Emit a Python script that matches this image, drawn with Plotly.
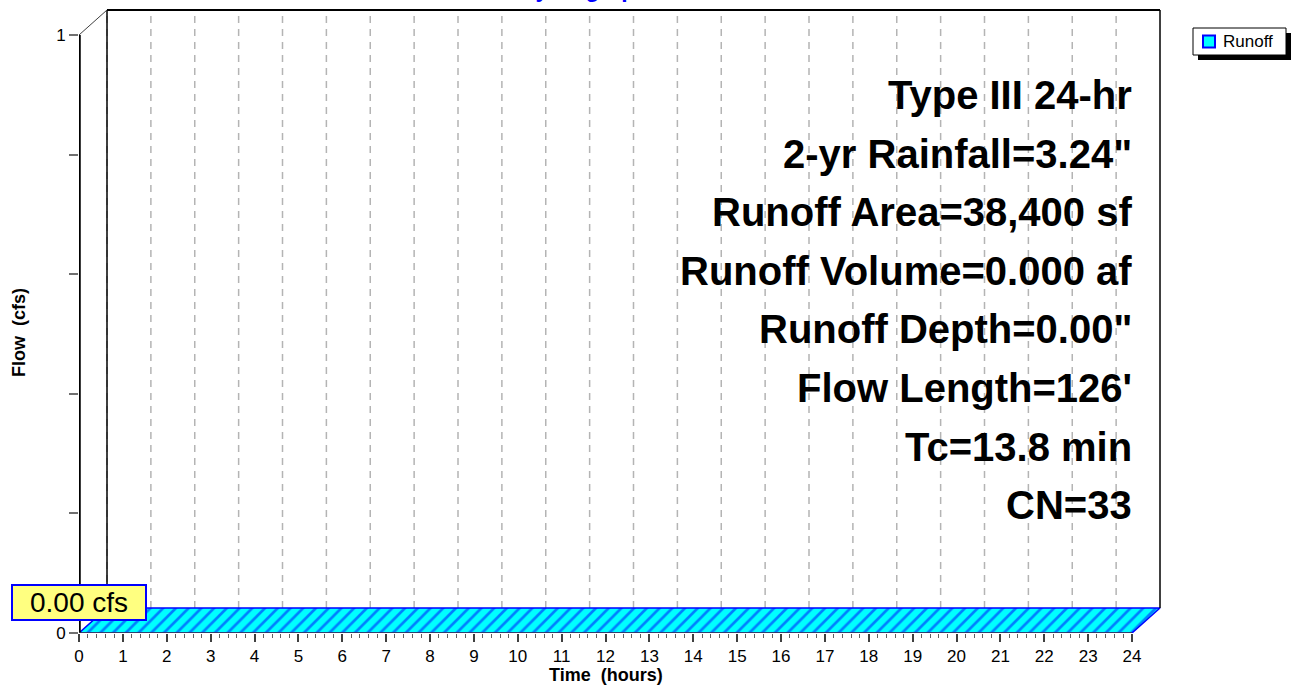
import plotly.graph_objects as go

# Hydrograph series (time in hours, flow in cfs)
hours = [0, 1, 2, 3, 4, 5, 6, 7, 8, 9, 10, 11, 12,
         13, 14, 15, 16, 17, 18, 19, 20, 21, 22, 23, 24]
flow_cfs = [0.00, 0.00, 0.00, 0.00, 0.00, 0.00, 0.00, 0.00, 0.00, 0.00,
            0.00, 0.00, 0.00, 0.00, 0.00, 0.00, 0.00, 0.00, 0.00, 0.00,
            0.00, 0.00, 0.00, 0.00, 0.00]

x_tick_vals = list(range(0, 25))
x_tick_text = [str(v) for v in x_tick_vals]
y_tick_vals = [0, 0.2, 0.4, 0.6, 0.8, 1.0]
y_tick_text = ["0", "", "", "", "", "1"]

series_name = "Runoff"
summary_lines = [
    "Type III 24-hr",
    '2-yr Rainfall=3.24"',
    "Runoff Area=38,400 sf",
    "Runoff Volume=0.000 af",
    'Runoff Depth=0.00"',
    "Flow Length=126'",
    "Tc=13.8 min",
    "CN=33",
]

# ---- layout geometry (pixels) ----
W, H = 1294, 686
ML, MR, MT, MB = 79, 129, 5, 53
PLOT_W = W - ML - MR
PLOT_H = H - MT - MB
PX_PER_HR = 43.875
X_MAX = PLOT_W / PX_PER_HR
PX_PER_CFS = 598.0
Y_MAX = PLOT_H / PX_PER_CFS

# oblique depth of the pseudo-3D box, in data units
DX = 28 / PX_PER_HR
DY = 25 / PX_PER_CFS

FONT = "Liberation Sans, Arial, sans-serif"


def paper_x(px):
    return (px - ML) / PLOT_W


def paper_y(py):
    return (H - MB - py) / PLOT_H


fig = go.Figure()

# hydrograph ribbon: front edge along the data, back edge shifted by depth
ribbon_x = hours + [h + DX for h in reversed(hours)] + [hours[0]]
ribbon_y = flow_cfs + [q + DY for q in reversed(flow_cfs)] + [flow_cfs[0]]
fig.add_trace(go.Scatter(
    x=ribbon_x, y=ribbon_y, mode="lines", fill="toself",
    fillcolor="#00FFFF",
    fillpattern=dict(shape="/", fgcolor="#0000FF", bgcolor="#00FFFF",
                     size=9, solidity=0.3),
    line=dict(color="#0000FF", width=1.5),
    showlegend=False, hoverinfo="skip",
))

shapes = []
# dashed vertical grid on the back wall
for h in x_tick_vals[:-1]:
    shapes.append(dict(type="line", xref="x", yref="y", layer="below",
                       x0=h + DX, x1=h + DX, y0=DY, y1=1 + DY,
                       line=dict(color="#B4B4B4", width=1.5, dash="7px,6px")))
# back wall frame
frame = "#000000"
shapes += [
    dict(type="line", xref="x", yref="y", x0=DX, x1=DX, y0=DY, y1=1 + DY,
         line=dict(color=frame, width=1.5)),
    dict(type="line", xref="x", yref="y", x0=DX, x1=24 + DX, y0=1 + DY, y1=1 + DY,
         line=dict(color=frame, width=2)),
    dict(type="line", xref="x", yref="y", x0=24 + DX, x1=24 + DX, y0=DY, y1=1 + DY,
         line=dict(color=frame, width=1.5)),
    # depth edge from the front axis top to the back wall
    dict(type="line", xref="x", yref="y", x0=0, x1=DX, y0=1, y1=1 + DY,
         line=dict(color="#404040", width=1)),
    # front flow axis
    dict(type="line", xref="x", yref="y", x0=0, x1=0, y0=0, y1=1,
         line=dict(color="#000000", width=3.5)),
    # front time axis
    dict(type="line", xref="x", yref="y", x0=0, x1=24, y0=0, y1=0,
         line=dict(color="#404040", width=1.5)),
]

# legend box with drop shadow
LEG_L, LEG_R, LEG_T, LEG_B = 1193, 1286, 28, 55
SHADOW = 5
shapes += [
    dict(type="rect", xref="paper", yref="paper",
         x0=paper_x(LEG_L + SHADOW), x1=paper_x(LEG_R + SHADOW),
         y0=paper_y(LEG_B + SHADOW), y1=paper_y(LEG_T + SHADOW),
         fillcolor="#000000", line=dict(width=0)),
    dict(type="rect", xref="paper", yref="paper",
         x0=paper_x(LEG_L), x1=paper_x(LEG_R),
         y0=paper_y(LEG_B), y1=paper_y(LEG_T),
         fillcolor="#FFFFFF", line=dict(color="#000000", width=1)),
    dict(type="rect", xref="paper", yref="paper",
         x0=paper_x(LEG_L + 10), x1=paper_x(LEG_L + 22),
         y0=paper_y(47.5), y1=paper_y(35.5),
         fillcolor="#00FFFF", line=dict(color="#0000FF", width=2)),
]

annotations = []
annotations.append(dict(
    text=series_name, xref="paper", yref="paper",
    x=paper_x(LEG_L + 28), y=paper_y((LEG_T + LEG_B) / 2),
    xanchor="left", yanchor="middle", showarrow=False,
    font=dict(family=FONT, size=17, color="#000000"),
))
# summary block, right aligned at the 24 h mark
line_top, line_gap = 95, 58.6
for i, txt in enumerate(summary_lines):
    annotations.append(dict(
        text=f"<b>{txt}</b>", xref="x", yref="paper", x=24,
        y=paper_y(line_top + i * line_gap), xshift=2,
        xanchor="right", yanchor="middle", showarrow=False,
        font=dict(family=FONT, size=40, color="#000000"),
    ))
# peak flow label
peak = max(flow_cfs)
annotations.append(dict(
    text=f"{peak:.2f} cfs", xref="x", yref="paper",
    x=hours[flow_cfs.index(peak)], y=paper_y(602),
    xanchor="center", yanchor="middle", showarrow=False,
    font=dict(family=FONT, size=28, color="#000000"),
    bgcolor="#FFFF80", bordercolor="#0000FF", borderwidth=2,
    width=130, height=31, borderpad=1,
))
# axis titles
annotations.append(dict(
    text="<b>Time  (hours)</b>", xref="paper", yref="paper",
    x=paper_x(606), y=paper_y(675), xanchor="center", yanchor="middle",
    showarrow=False, font=dict(family=FONT, size=18, color="#000000"),
))
annotations.append(dict(
    text="<b>Flow  (cfs)</b>", xref="paper", yref="paper",
    x=paper_x(19), y=paper_y(333), xanchor="center", yanchor="middle",
    textangle=-90, showarrow=False,
    font=dict(family=FONT, size=18, color="#000000"),
))
# chart title (sits at the very top edge)
annotations.append(dict(
    text="<b>Hydrograph</b>", xref="paper", yref="paper",
    x=paper_x(584), y=paper_y(4), xanchor="center", yanchor="bottom",
    showarrow=False, font=dict(family=FONT, size=23, color="#0000FF"),
))

fig.update_layout(
    width=W, height=H,
    margin=dict(l=ML, r=MR, t=MT, b=MB, pad=0),
    paper_bgcolor="#FFFFFF", plot_bgcolor="#FFFFFF",
    font=dict(family=FONT, color="#000000"),
    xaxis=dict(
        range=[0, X_MAX], showgrid=False, zeroline=False, showline=False,
        tickmode="array", tickvals=x_tick_vals, ticktext=x_tick_text,
        ticks="outside", ticklen=8, tickwidth=1.5, tickcolor="#404040",
        tickfont=dict(family=FONT, size=17, color="#000000"),
        minor=dict(tickmode="array",
                   tickvals=[round(i * 0.2, 1) for i in range(121)],
                   ticks="outside", ticklen=4, tickwidth=1, tickcolor="#606060",
                   showgrid=False),
        fixedrange=True,
    ),
    yaxis=dict(
        range=[0, Y_MAX], showgrid=False, zeroline=False, showline=False,
        tickmode="array", tickvals=y_tick_vals, ticktext=y_tick_text,
        ticks="outside", ticklen=9, tickwidth=1.5, tickcolor="#707070",
        tickfont=dict(family=FONT, size=17, color="#000000"),
        fixedrange=True,
    ),
    shapes=shapes,
    annotations=annotations,
    showlegend=False,
)

fig.write_html("out.html")
